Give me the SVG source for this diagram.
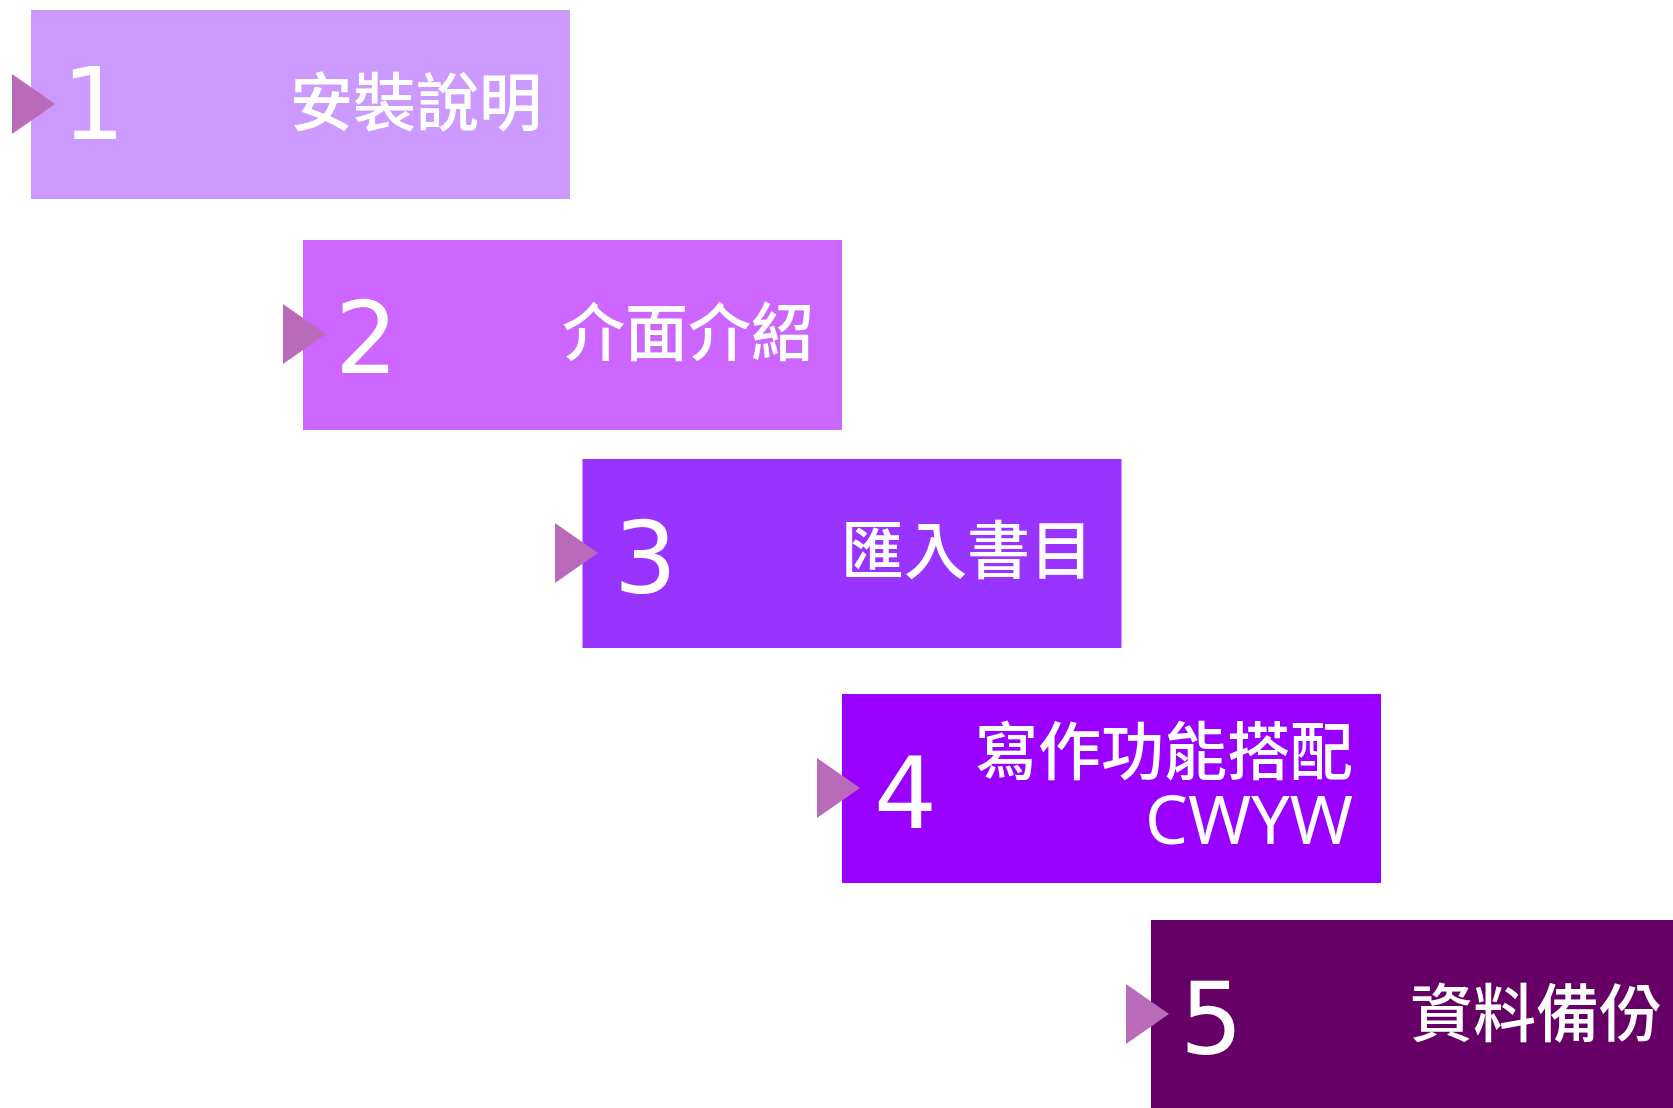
<svg xmlns="http://www.w3.org/2000/svg" width="1673" height="1108" viewBox="0 0 1673 1108">
<style>
.num{font-family:"DejaVu Sans","Noto Sans",sans-serif;font-size:99px;fill:#fff}
.lbl{font-family:"Noto Sans CJK TC","Noto Sans CJK SC",sans-serif;font-size:63px;font-weight:500;fill:#fff;text-anchor:end}
.en{font-family:"Noto Sans","Open Sans",sans-serif;font-size:68px;font-weight:400}
.tri{fill:#B96BB9}
</style>
<rect width="1673" height="1108" fill="#fff"/>
<g id="node1">
<rect x="31" y="10" width="539" height="189" fill="#CC99FF"/>
<polygon class="tri" points="12,74 55,104 12,134"/>
<text class="num" x="62" y="139">1</text>
<text class="lbl" x="542" y="125">安裝說明</text>
</g>
<g id="node2">
<rect x="303" y="240" width="539" height="190" fill="#CC66FF"/>
<polygon class="tri" points="283,304 326,334 283,364"/>
<text class="num" x="335" y="373">2</text>
<text class="lbl" x="814" y="355">介面介紹</text>
</g>
<g id="node3">
<rect x="582.5" y="459" width="539" height="189" fill="#9933FF"/>
<polygon class="tri" points="555,523 598,553 555,583"/>
<text class="num" x="614" y="593">3</text>
<text class="lbl" x="1093" y="573">匯入書目</text>
</g>
<g id="node4">
<rect x="842" y="694" width="539" height="189" fill="#9900FF"/>
<polygon class="tri" points="817,758 860,788 817,818"/>
<text class="num" x="874" y="828">4</text>
<text class="lbl" x="1353" y="774">寫作功能搭配<tspan class="en" x="1353" y="844">CWYW</tspan></text>
</g>
<g id="node5">
<rect x="1151" y="920" width="539" height="189" fill="#660066"/>
<polygon class="tri" points="1126,984 1169,1014 1126,1044"/>
<text class="num" x="1180" y="1054">5</text>
<text class="lbl" x="1662" y="1036">資料備份</text>
</g>
<g id="connectors"></g>
</svg>
